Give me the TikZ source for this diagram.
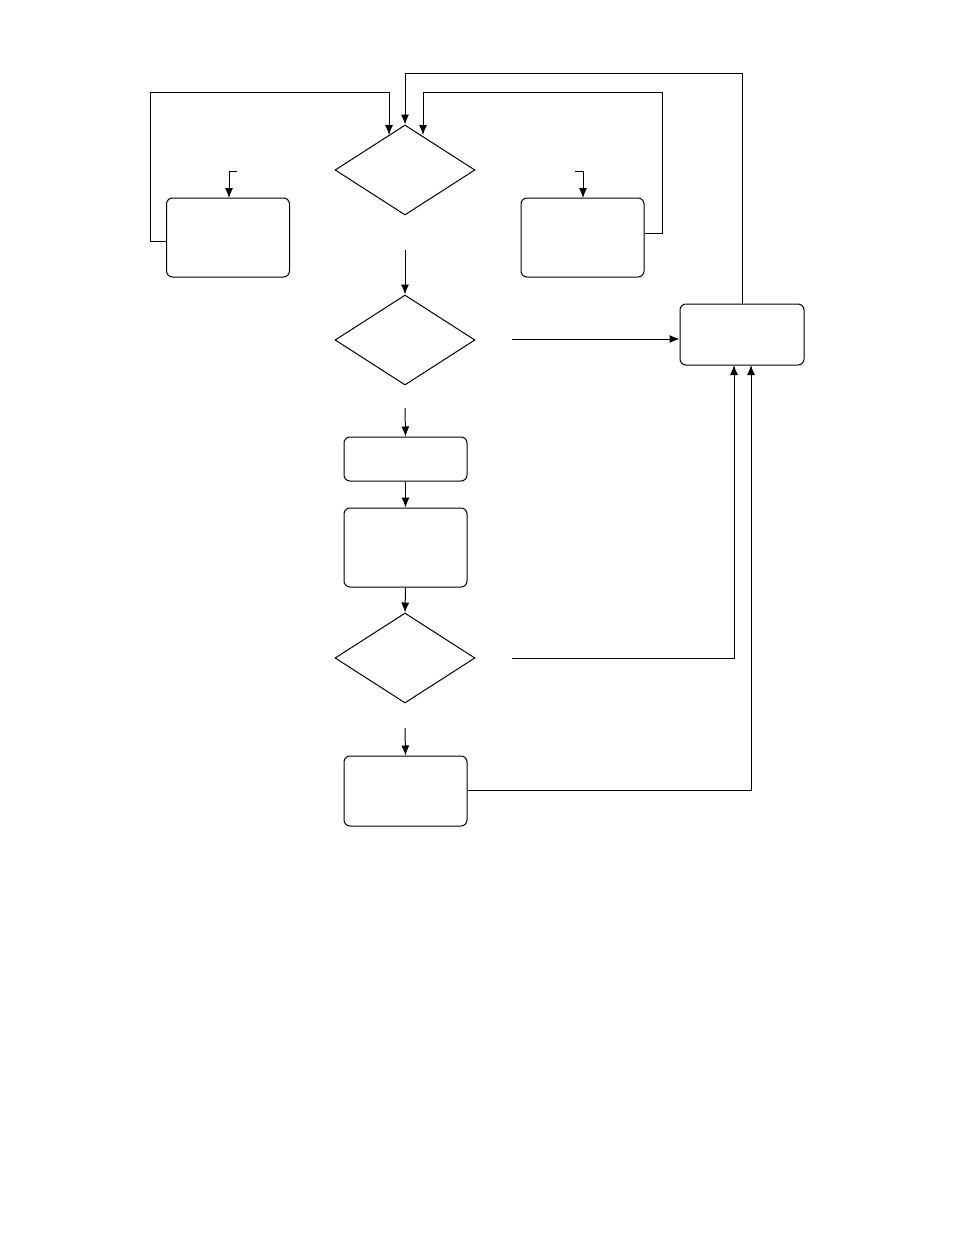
\documentclass[tikz,border=0pt]{standalone}
\usepackage{tikz}
\usetikzlibrary{arrows.meta, positioning, calc, shapes.geometric}
\tikzset{
  procbox/.style={draw, rounded corners=6pt, minimum width=123pt, inner sep=0pt, line width=1pt},
  decide/.style={draw, diamond, minimum width=140pt, minimum height=90pt, inner sep=0pt, aspect=1.55, line width=1pt},
  flow/.style={-{Latex[length=10pt,width=8pt]}, line width=1pt}
}
\begin{document}
\begin{tikzpicture}[x=1pt,y=-1pt]
\useasboundingbox (0,0) rectangle (954,1235);

% Decisions
\node[decide] (dtop) at (405,170) {};
\node[decide] (dmid) at (405,340) {};
\node[decide] (dlow) at (405,658) {};

% Boxes
\node[procbox, minimum height=79pt] (left) at (228,237.5) {};
\node[procbox, minimum height=79pt] (right) at (582.5,237.5) {};
\node[procbox, minimum width=124pt, minimum height=61pt] (hub) at (742,334.5) {};
\node[procbox, minimum height=44pt] (small) at (405.5,459) {};
\node[procbox, minimum height=79pt] (proc) at (405.5,547.5) {};
\node[procbox, minimum height=70pt] (last) at (405.5,791) {};

% Free ends
\coordinate (a1) at (405,250);
\coordinate (a2) at (512,339);
\coordinate (a3) at (405,408);
\coordinate (a4) at (512,658);
\coordinate (a5) at (405,728);

% Main column
\draw[flow] (a1) -- (dmid.north);
\draw[flow] (a3) -- (small.north);
\draw[flow] (small.south) -- (proc.north);
\draw[flow] (proc.south) -- (dlow.north);
\draw[flow] (a5) -- (last.north);

% Into hub
\draw[flow] (a2) -- (hub.west |- a2);
\draw[flow] (a4) -- (734,658) -- (734,365);
\draw[flow] (last.east |- 0,790) -- (751,790) -- (751,365);

% Back to top decision
\draw[flow] (hub.north) -- (742,73) -- (405,73) -- (dtop.north);
\draw[flow] (left.west |- 0,241) -- (150,241) -- (150,92) -- (389,92) -- (389,135);
\draw[flow] (right.east |- 0,233) -- (662,233) -- (662,92) -- (423,92) -- (423,135);

% Small entries
\draw[flow] (237,171) -- (229,171) -- (229,198);
\draw[flow] (575,171) -- (583,171) -- (583,198);
\end{tikzpicture}
\end{document}
